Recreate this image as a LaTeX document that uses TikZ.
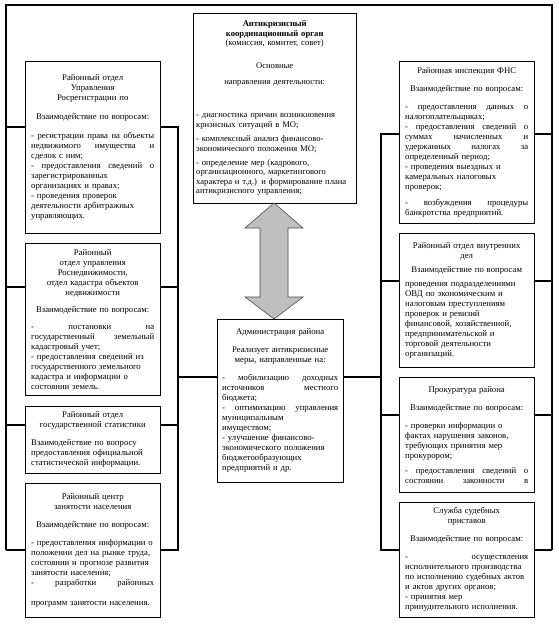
\documentclass[tikz,border=0pt]{standalone}
\usepackage{fontspec}
\setmainfont{Liberation Serif}
\usetikzlibrary{positioning, calc, backgrounds, shadows}

\newcommand\hd[1]{{\centering #1\par}}
\newcommand\jl[2][123pt]{\leavevmode\hbox to #1{\spaceskip=.25em plus 1fil\relax #2}}

\begin{document}
\begin{tikzpicture}[x=1pt, y=-1pt,
  orgbox/.style={draw, fill=white, anchor=north west, text width=123pt,
                 minimum width=135pt, inner xsep=6pt, inner ysep=2pt,
                 font=\fontsize{8.7}{10}\selectfont,
                 drop shadow={shadow xshift=1pt, shadow yshift=-1pt, fill=black!50, opacity=.6}},
  link/.style={line width=1.4pt, black},
  bigarrow/.style={draw=black!70, fill=black!25, line width=.6pt}
]
\useasboundingbox (0,0) rectangle (559,626);

% central body and administration
\node[orgbox, text width=157pt, minimum width=163pt, inner xsep=3pt, minimum height=190pt,
      font=\fontsize{8.6}{9.4}\selectfont] (coord) at (193,13) {%
\hd{\textbf{Антикризисный}\\\textbf{координационный орган}\\(комиссия, комитет, совет)}
\vspace{13pt}
\hd{Основные}
\vspace{7pt}
\hd{направления деятельности:}
\vspace{24pt}
{\raggedright - диагностика причин возникновения\\кризисных ситуаций в МО;\par}
\vspace{5pt}
{\raggedright - комплексный анализ финансово-\\экономического положения МО;\par}
\vspace{5pt}
{\raggedright - определение мер (кадрового,\\организационного, маркетингового\\характера и т.д.) и формирование плана\\антикризисного управления;\par}};

\node[orgbox, text width=116pt, minimum width=126pt, inner xsep=5pt, minimum height=163pt] (adm) at (217,319) {%
\hd{Администрация района}
\vspace{8pt}
\hd{Реализует антикризисные\\меры, направленные на:}
\vspace{8pt}
{\raggedright\jl[116pt]{- мобилизацию доходных}\\\jl[116pt]{источников местного}\\бюджета;\\\jl[116pt]{- оптимизацию управления}\\муниципальным\\имуществом;\\- улучшение финансово-\\экономического положения\\бюджетообразующих\\предприятий и др.\par}};

% left column
\node[orgbox, minimum height=172pt] (rosreg) at (25,61) {%
\hd{Районный отдел\\Управления\\Росрегистрации по}
\vspace{9pt}
\hd{Взаимодействие по вопросам:}
\vspace{9pt}
{\raggedright\jl{- регистрации права на объекты}\\\jl{недвижимого имущества и}\\сделок с ним;\\\jl{- предоставления сведений о}\\зарегистрированных\\организациях и правах;\\- проведения проверок\\деятельности арбитражных\\управляющих.\par}};

\node[orgbox, minimum height=152pt] (rosned) at (25,243) {%
\hd{Районный\\отдел управления\\Роснедвижимости,\\отдел кадастра объектов\\недвижимости}
\vspace{7pt}
\hd{Взаимодействие по вопросам:}
\vspace{7pt}
{\raggedright\jl{- постановки на}\\\jl{государственный земельный}\\кадастровый учет;\\- предоставления сведений из\\государственного земельного\\кадастра и информации о\\состоянии земель.\par}};

\node[orgbox, minimum height=67pt] (stat) at (25,406) {%
\hd{Районный отдел\\государственной статистики}
\vspace{8pt}
{\raggedright Взаимодействие по вопросу\\предоставления официальной\\статистической информации.\par}};

\node[orgbox, minimum height=134pt] (empl) at (25,483) {%
\hd{Районный центр\\занятости населения}
\vspace{8pt}
\hd{Взаимодействие по вопросам:}
\vspace{8pt}
{\raggedright - предоставления информации о\\положении дел на рынке труда,\\состоянии и прогнозе развития\\занятости населения;\\\jl{- разработки районных}\par}
\vspace{10pt}
{\raggedright программ занятости населения.\par}};

% right column
\node[orgbox, minimum height=162pt] (fns) at (399,61) {%
\hd{Районная инспекция ФНС}
\vspace{8pt}
\hd{Взаимодействие по вопросам:}
\vspace{8pt}
{\raggedright\jl{- предоставления данных о}\\налогоплательщиках;\\\jl{- предоставления сведений о}\\\jl{суммах начисленных и}\\\jl{удержанных налогах за}\\определенный период;\\- проведения выездных и\\камеральных налоговых\\проверок;\par}
\vspace{6pt}
{\raggedright\jl{- возбуждения процедуры}\\банкротства предприятий.\par}};

\node[orgbox, minimum height=134pt] (ovd) at (399,233) {%
\hd{Районный отдел внутренних\\дел}
\vspace{4pt}
\hd{Взаимодействие по вопросам}
\vspace{4pt}
{\raggedright проведения подразделениями\\ОВД по экономическим и\\налоговым преступлениям\\проверок и ревизий\\финансовой, хозяйственной,\\предпринимательской и\\торговой деятельности\\организаций.\par}};

\node[orgbox, minimum height=115pt] (prok) at (399,377) {%
\hd{Прокуратура района}
\vspace{8pt}
\hd{Взаимодействие по вопросам:}
\vspace{8pt}
{\raggedright - проверки информации о\\фактах нарушения законов,\\требующих принятия мер\\прокурором;\par}
\vspace{5pt}
{\raggedright\jl{- предоставления сведений о}\\\jl{состоянии законности в}\par}};

\node[orgbox, minimum height=115pt] (fssp) at (399,502) {%
\hd{Служба судебных\\приставов}
\vspace{8pt}
\hd{Взаимодействие по вопросам:}
\vspace{8pt}
{\raggedright\jl{- осуществления}\\исполнительного производства\\по исполнению судебных актов\\и актов других органов;\\- принятия мер\\принудительного исполнения.\par}};

% frame and trunks
\coordinate (ftl) at (6,5);   \coordinate (ftr) at (552,5);
\coordinate (fbl) at (6,550); \coordinate (fbr) at (552,550);
\coordinate (lt1) at (178,127); \coordinate (lt2) at (178,287);
\coordinate (lt3) at (178,425); \coordinate (lt4) at (178,550);
\coordinate (lta) at (178,377);
\coordinate (rt1) at (381,134); \coordinate (rt2) at (381,281);
\coordinate (rt3) at (381,415); \coordinate (rt4) at (381,550);
\coordinate (rta) at (381,377);

\begin{scope}[on background layer]
\draw[link] (fbl) -- (ftl) -- (ftr) -- (fbr);
\draw[link] (lt1 -| ftl) -- (lt1) -- (lt4) -- (fbl);
\draw[link] (lt2 -| ftl) -- (lt2);
\draw[link] (lt3 -| ftl) -- (lt3);
\draw[link] (rt1 -| ftr) -- (rt1) -- (rt4) -- (fbr);
\draw[link] (rt2 -| ftr) -- (rt2);
\draw[link] (rt3 -| ftr) -- (rt3);
\end{scope}
\draw[link] (lta) -- (lta -| adm.west);
\draw[link] (rta) -- (rta -| adm.east);

% double arrow between the two central boxes
\draw[bigarrow] (274,203) -- (303,228) -- (288,228) -- (288,297) -- (303,297)
  -- (274,319) -- (245,297) -- (260,297) -- (260,228) -- (245,228) -- cycle;
\end{tikzpicture}
\end{document}
